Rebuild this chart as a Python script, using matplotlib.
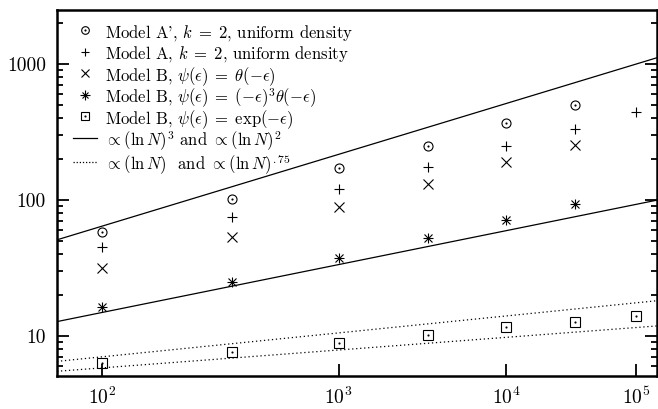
import numpy as np
import matplotlib
matplotlib.use("Agg")
import matplotlib.pyplot as plt

plt.rcParams['font.family'] = 'cmr10'
plt.rcParams['mathtext.fontset'] = 'cm'
plt.rcParams['axes.formatter.use_mathtext'] = True

# data
N_all = [1e2, 10**2.5, 1e3, 10**3.5, 1e4, 10**4.5, 1e5]
model_a_prime = [58.5, 101, 172, 251, 368, 502]
model_a = [44.9, 74.6, 120, 174, 251, 334, 444]
model_b_step = [31.3, 53.7, 88.4, 131, 189, 255]
model_b_cube = [16.3, 24.8, 37.3, 52, 71.6, 93.5]
model_b_exp = [6.3, 7.6, 8.9, 10.2, 11.5, 12.7, 14.0]

# guide lines (straight on this scale), values at both ends of the axis
line_N = [70.9, 1.52e5]
fit_ln3 = [50.8, 1114]
fit_ln2 = [12.7, 99.6]
fit_ln1 = [6.47, 18.1]
fit_ln075 = [5.47, 11.8]

xticks = [1e2, 1e3, 1e4, 1e5]
xticklabels = [r'$10^{2}$', r'$10^{3}$', r'$10^{4}$', r'$10^{5}$']
yticks = [10, 100, 1000]
yticklabels = ['10', '100', '1000']

labels = [r"Model A', $k\;=\;2$, uniform density",
          r"Model A, $k\;=\;2$, uniform density",
          r"Model B, $\psi(\epsilon)\;=\;\theta(-\epsilon)$",
          r"Model B, $\psi(\epsilon)\;=\;(-\epsilon)^3\theta(-\epsilon)$",
          r"Model B, $\psi(\epsilon)\;=\;\exp(-\epsilon)$",
          r"$\propto(\ln N)^3$ and $\propto(\ln N)^2$",
          r"$\propto(\ln N)$  and $\propto(\ln N)^{.75}$"]


def fwd(x):
    return np.log(np.log(np.clip(x, 1.0001, None)))


def inv(y):
    return np.exp(np.exp(y))


fig = plt.figure(figsize=(6.58, 4.09), dpi=100)
ax = fig.add_axes([0.0866, 0.0807, 0.912, 0.8948])

ms = 6.5
kw = dict(linestyle='none', color='black', markerfacecolor='none', markeredgewidth=0.8)
dotted = (0, (1, 2.2))

ax.plot(line_N, fit_ln3, color='black', lw=0.9)
ax.plot(line_N, fit_ln2, color='black', lw=0.9)
ax.plot(line_N, fit_ln1, color='black', lw=0.9, linestyle=dotted)
ax.plot(line_N, fit_ln075, color='black', lw=0.9, linestyle=dotted)

n = len(model_a_prime)
ax.plot(N_all[:n], model_a_prime, marker='o', markersize=ms, **kw)
ax.plot(N_all[:n], model_a_prime, marker='.', markersize=1.5, **kw)
ax.plot(N_all, model_a, marker='+', markersize=ms + 0.5, **kw)
ax.plot(N_all[:len(model_b_step)], model_b_step, marker='x', markersize=ms, **kw)
ax.plot(N_all[:len(model_b_cube)], model_b_cube, marker='+', markersize=ms + 1, **kw)
ax.plot(N_all[:len(model_b_cube)], model_b_cube, marker='x', markersize=ms - 0.5, **kw)
ax.plot(N_all, model_b_exp, marker='s', markersize=ms, **kw)
ax.plot(N_all, model_b_exp, marker='.', markersize=1.5, **kw)

ax.set_xscale('function', functions=(fwd, inv))
ax.set_yscale('log')
ax.set_xlim(line_N[0], line_N[1])
ax.set_ylim(5.05, 2500)

ax.set_xticks(xticks)
ax.set_xticklabels(xticklabels)
ax.xaxis.set_minor_locator(matplotlib.ticker.NullLocator())
ax.set_yticks(yticks)
ax.set_yticklabels(yticklabels)
ax.yaxis.set_minor_formatter(matplotlib.ticker.NullFormatter())

ax.tick_params(axis='both', which='major', direction='in', length=8.5, width=1.3,
               labelsize=14, top=False, right=True, pad=8)
ax.tick_params(axis='y', which='minor', direction='in', length=4.5, width=1.3, right=True)
for s in ax.spines.values():
    s.set_linewidth(1.8)

# hand-placed key, evenly spaced rows like the original
lms = 5.5
key_x = 0.047
text_x = 0.08
for i, lab in enumerate(labels):
    yk = 1 - (20 + i * 21.5 + (2.5 if i == 6 else 0)) / 366
    t = dict(transform=ax.transAxes, clip_on=False)
    if i == 0:
        ax.plot([key_x], [yk], marker='o', markersize=lms, **kw, **t)
        ax.plot([key_x], [yk], marker='.', markersize=1.5, **kw, **t)
    elif i == 1:
        ax.plot([key_x], [yk], marker='+', markersize=lms + 0.5, **kw, **t)
    elif i == 2:
        ax.plot([key_x], [yk], marker='x', markersize=lms, **kw, **t)
    elif i == 3:
        ax.plot([key_x], [yk], marker='+', markersize=lms + 1, **kw, **t)
        ax.plot([key_x], [yk], marker='x', markersize=lms - 0.5, **kw, **t)
    elif i == 4:
        ax.plot([key_x], [yk], marker='s', markersize=lms, **kw, **t)
        ax.plot([key_x], [yk], marker='.', markersize=1.5, **kw, **t)
    elif i == 5:
        ax.plot([key_x - 0.02, key_x + 0.02], [yk, yk], color='black', lw=0.9, **t)
    else:
        ax.plot([key_x - 0.02, key_x + 0.02], [yk, yk], color='black', lw=0.9,
                linestyle=(0, (1, 1.5)), **t)
    ax.text(text_x, yk, lab, transform=ax.transAxes, fontsize=12,
            ha='left', va='center_baseline')

fig.savefig('out.png', dpi=100)
